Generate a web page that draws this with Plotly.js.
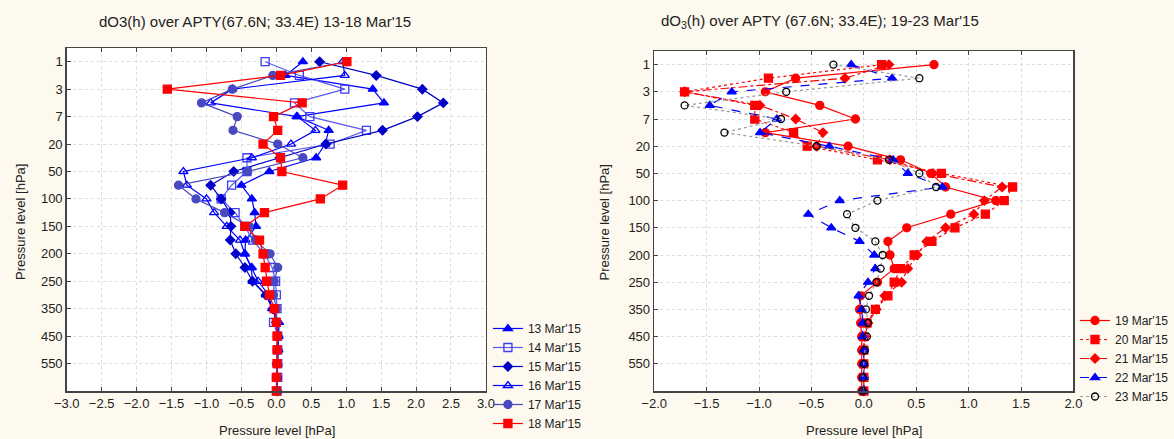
<!DOCTYPE html>
<html><head><meta charset="utf-8">
<script src="https://cdn.plot.ly/plotly-3.0.1.min.js"></script>
<style>html,body{margin:0;padding:0;background:#fdf9ee;} #chart{width:1174px;height:439px;}</style>
</head><body><div id="chart"></div>
<script>
// Pressure levels (category axis, top to bottom)
const levels = ['1','2','3','5','7','10','20','30','50','70','100','125','150','175','200','225','250','300','350','400','450','500','550','600','650'];
const tickLevels = ['1','3','7','20','50','100','150','200','250','350','450','550'];
const minorLevels = ['2','5','10','30','70','125','175','225','300','400','500','600'];

// Left panel: 13-18 Mar'15
const leftNames = ["13 Mar'15","14 Mar'15","15 Mar'15","16 Mar'15","17 Mar'15","18 Mar'15"];
const mar13 = [0.38, 0.13, 1.38, 1.54, 0.29, 0.75, 0.70, 0.57, -0.10, -0.50, -0.35, -0.31, -0.29, -0.44, -0.45, -0.36, -0.34, -0.15, -0.05, 0.02, 0.03, 0.02, 0.01, 0.01, 0.01];
const mar14 = [-0.16, 0.33, 0.98, 0.26, 0.48, 1.29, 0.77, -0.42, -0.42, -0.64, -0.79, -0.59, -0.45, -0.34, -0.17, -0.06, -0.01, 0.00, 0.01, -0.04, 0.02, 0.02, 0.02, 0.02, 0.01];
const mar15 = [0.62, 1.43, 2.09, 2.39, 2.02, 1.52, 0.71, 0.05, -0.61, -0.94, -0.79, -0.66, -0.65, -0.66, -0.58, -0.45, -0.34, -0.15, -0.05, 0.00, 0.02, 0.02, 0.01, 0.01, 0.01];
const mar16 = [0.95, 0.98, -0.63, -0.94, 0.30, 0.56, 0.21, -0.35, -1.33, -1.28, -1.00, -0.89, -0.71, -0.52, -0.45, -0.35, -0.26, -0.11, -0.06, 0.04, 0.03, 0.03, 0.02, 0.01, 0.01];
const mar17 = [1.00, -0.05, -0.63, -1.07, -0.56, -0.62, 0.02, 0.38, -0.41, -1.40, -1.15, -0.74, -0.39, -0.30, -0.09, 0.02, -0.03, -0.04, 0.00, 0.01, 0.02, 0.02, 0.01, 0.01, 0.01];
const mar18 = [1.01, 0.06, -1.56, 0.37, -0.04, 0.02, -0.19, 0.06, 0.08, 0.95, 0.63, -0.17, -0.45, -0.24, -0.19, -0.16, -0.14, -0.10, -0.03, 0.00, 0.01, 0.01, 0.01, 0.00, 0.00];

// Right panel: 19-23 Mar'15
const rightNames = ["19 Mar'15","20 Mar'15","21 Mar'15","22 Mar'15","23 Mar'15"];
const mar19 = [0.67, -0.65, -0.94, -0.42, -0.08, -0.94, -0.15, 0.35, 0.64, 0.78, 1.26, 0.83, 0.41, 0.23, 0.25, 0.29, 0.13, -0.03, -0.04, -0.03, -0.02, -0.02, -0.02, -0.02, -0.02];
const mar20 = [0.17, -0.91, -1.71, -1.04, -1.04, -0.67, -0.54, 0.13, 0.74, 1.42, 1.34, 1.16, 0.87, 0.65, 0.48, 0.35, 0.29, 0.23, 0.11, 0.03, 0.00, 0.00, 0.00, 0.00, 0.00];
const mar21 = [0.24, -0.18, -1.71, -0.99, -0.65, -0.39, -0.45, 0.25, 0.66, 1.32, 1.15, 1.05, 0.78, 0.60, 0.51, 0.42, 0.36, 0.20, 0.12, 0.04, 0.01, 0.00, 0.00, 0.00, 0.00];
const mar22 = [-0.12, 0.27, -1.26, -1.47, -0.83, -0.99, -0.33, 0.28, 0.42, 0.75, -0.23, -0.53, -0.31, -0.04, 0.10, 0.11, 0.04, -0.05, -0.02, -0.01, -0.01, 0.00, 0.00, 0.00, 0.00];
const mar23 = [-0.29, 0.53, -0.74, -1.71, -0.79, -1.33, -0.45, 0.24, 0.53, 0.69, 0.13, -0.16, -0.08, 0.11, 0.18, 0.16, 0.12, 0.05, 0.02, 0.04, 0.03, 0.01, 0.00, -0.01, -0.01];

const W = 1174, H = 439;
const px = v => v / W, py = v => (H - v) / H;

function tr(name, xs, axis, legend, color, symbol, size, dash, lineColor, fill) {
  return {
    type: 'scatter', mode: 'lines+markers', name: name,
    x: xs, y: levels, xaxis: axis[0], yaxis: axis[1], legend: legend,
    cliponaxis: false,
    line: {color: lineColor || color, width: 1.2, dash: dash || 'solid'},
    marker: {symbol: symbol, size: size, color: fill || color, line: {color: color, width: 1.3}}
  };
}
const L = ['x','y'], R = ['x2','y2'];
const data = [
  tr(leftNames[0], mar13, L, 'legend', '#0000ff', 'triangle-up', 8),
  tr(leftNames[1], mar14, L, 'legend', '#3c3cf0', 'square-open', 8, 'solid', '#5a5af0'),
  tr(leftNames[2], mar15, L, 'legend', '#0000c8', 'diamond', 7),
  tr(leftNames[3], mar16, L, 'legend', '#0000ff', 'triangle-up-open', 8),
  tr(leftNames[4], mar17, L, 'legend', '#4848c0', 'circle', 8),
  tr(leftNames[5], mar18, L, 'legend', '#ff0000', 'square', 8),
  tr(rightNames[0], mar19, R, 'legend2', '#ff0000', 'circle', 8, 'solid'),
  tr(rightNames[1], mar20, R, 'legend2', '#ff0000', 'square', 8, 'dot'),
  tr(rightNames[2], mar21, R, 'legend2', '#ff0000', 'diamond', 7, 'dashdot'),
  tr(rightNames[3], mar22, R, 'legend2', '#0000ff', 'triangle-up', 8, 'dash'),
  tr(rightNames[4], mar23, R, 'legend2', '#000000', 'circle-open', 7, 'dot', '#999999')
];

const font = {family: 'Liberation Sans, Arial, sans-serif', size: 13, color: '#222'};
const xCommon = {
  dtick: 0.5, tickformat: '.1f', showgrid: true, gridcolor: '#dcdcdc', griddash: 'dot',
  zeroline: false, showline: true, mirror: 'ticks', linecolor: '#444', linewidth: 1.5,
  ticks: 'inside', ticklen: 4, tickcolor: '#444', tickfont: {size: 13, color: '#222'}
};
const yCommon = {
  type: 'category', categoryorder: 'array', categoryarray: levels, range: [24, -1], autorange: false,
  tickmode: 'array', tickvals: tickLevels, ticktext: tickLevels,
  showgrid: true, gridcolor: '#dcdcdc', griddash: 'dot', zeroline: false,
  showline: true, mirror: true, linecolor: '#444', linewidth: 1.5,
  ticks: 'inside', ticklen: 4, tickcolor: '#444', tickfont: {size: 13, color: '#222'}
};
const yMinor = {
  type: 'category', categoryorder: 'array', categoryarray: levels, range: [24, -1], autorange: false,
  tickmode: 'array', tickvals: minorLevels, showticklabels: false, side: 'right',
  showgrid: false, zeroline: false, showline: false,
  ticks: 'inside', ticklen: 4, tickcolor: '#444'
};
const layout = {
  width: W, height: H, margin: {l: 0, r: 0, t: 0, b: 0},
  paper_bgcolor: '#fdf9ee', plot_bgcolor: '#ffffff', font: font, showlegend: true,
  xaxis: Object.assign({}, xCommon, {domain: [px(67), px(488)], range: [-3, 3], anchor: 'y'}),
  yaxis: Object.assign({}, yCommon, {domain: [py(391), py(48)], anchor: 'x'}),
  yaxis3: Object.assign({}, yMinor, {domain: [py(391), py(48)], anchor: 'x', overlaying: 'y'}),
  xaxis2: Object.assign({}, xCommon, {domain: [px(657), px(1078)], range: [-2, 2], anchor: 'y2'}),
  yaxis2: Object.assign({}, yCommon, {domain: [py(391), py(51)], anchor: 'x2'}),
  yaxis4: Object.assign({}, yMinor, {domain: [py(391), py(51)], anchor: 'x2', overlaying: 'y2'}),
  legend: {x: px(490), y: py(314), xanchor: 'left', yanchor: 'top', bgcolor: 'rgba(0,0,0,0)',
    font: {size: 12, color: '#222'}, itemwidth: 30, tracegroupgap: 0},
  legend2: {x: px(1080), y: py(306), xanchor: 'left', yanchor: 'top', bgcolor: 'rgba(0,0,0,0)',
    font: {size: 12, color: '#222'}, itemwidth: 30, tracegroupgap: 0},
  annotations: [
    {text: "dO3(h) over APTY(67.6N; 33.4E) 13-18 Mar'15", xref: 'paper', yref: 'paper', x: px(97), y: py(22), xanchor: 'left', yanchor: 'middle', showarrow: false, font: {size: 15, color: '#222'}},
    {text: "dO<sub>3</sub>(h) over APTY (67.6N; 33.4E); 19-23 Mar'15", xref: 'paper', yref: 'paper', x: px(662), y: py(22), xanchor: 'left', yanchor: 'middle', showarrow: false, font: {size: 15, color: '#222'}},
    {text: 'Pressure level [hPa]', xref: 'paper', yref: 'paper', x: px(278), y: py(430), xanchor: 'center', yanchor: 'middle', showarrow: false, font: {size: 13, color: '#222'}},
    {text: 'Pressure level [hPa]', xref: 'paper', yref: 'paper', x: px(868), y: py(430), xanchor: 'center', yanchor: 'middle', showarrow: false, font: {size: 13, color: '#222'}},
    {text: 'Pressure level [hPa]', xref: 'paper', yref: 'paper', x: px(21), y: py(222), xanchor: 'center', yanchor: 'middle', textangle: -90, showarrow: false, font: {size: 13, color: '#222'}},
    {text: 'Pressure level [hPa]', xref: 'paper', yref: 'paper', x: px(608), y: py(222), xanchor: 'center', yanchor: 'middle', textangle: -90, showarrow: false, font: {size: 13, color: '#222'}}
  ]
};
Plotly.newPlot('chart', data, layout, {displayModeBar: false, staticPlot: true});
</script></body></html>
